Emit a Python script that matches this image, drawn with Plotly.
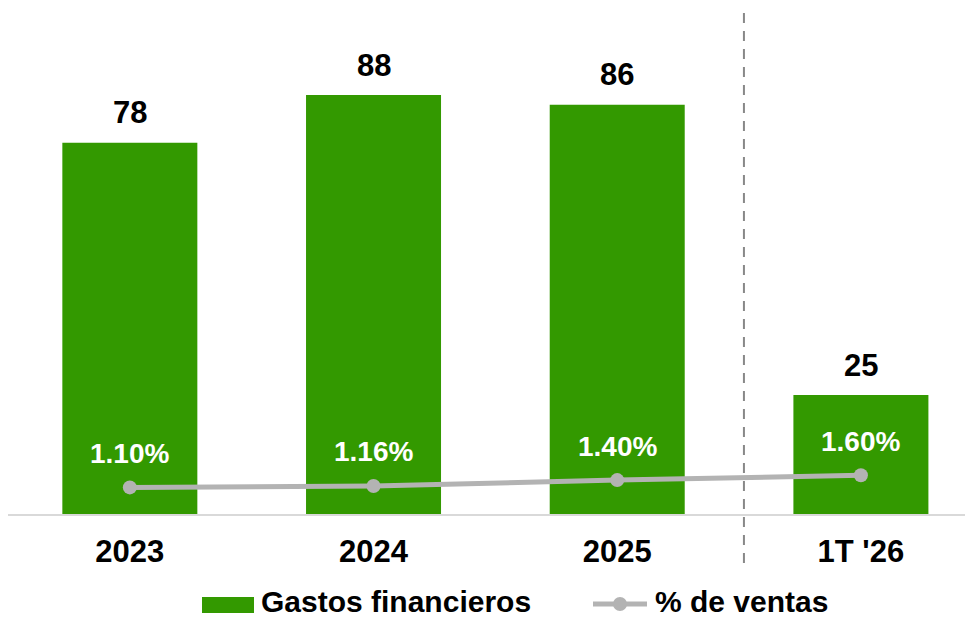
import plotly.graph_objects as go

categories = ["2023", "2024", "2025", "1T '26"]
gastos = [78, 88, 86, 25]
pct_ventas = [1.10, 1.16, 1.40, 1.60]

GREEN = "#339900"
GRAY = "#b3b3b3"
FONT = "Liberation Sans, Arial, sans-serif"

# page body has an 8px margin; coordinates below are page pixels
OFF = 8
W, H = 965, 613
L, R, T, B = 0, 0, 0, 107
pw, ph = W - L - R, H - T - B


def px(xp):
    return (xp - OFF - L) / pw


def py(yp):
    return (H - B - (yp - OFF)) / ph


fig = go.Figure()
fig.add_trace(go.Bar(
    x=categories, y=gastos, name="Gastos financieros",
    marker=dict(color=GREEN, line=dict(width=0)), width=0.554,
    showlegend=False, hoverinfo="skip",
))
fig.add_trace(go.Scatter(
    x=categories, y=pct_ventas, name="% de ventas", yaxis="y2",
    mode="lines+markers",
    line=dict(color=GRAY, width=5),
    marker=dict(color=GRAY, size=14),
    showlegend=False, hoverinfo="skip",
))

annotations = []
for i, v in enumerate(gastos):
    annotations.append(dict(
        x=i, y=v, xref="x", yref="y", text=str(v), showarrow=False,
        yanchor="middle", yshift=30,
        font=dict(family=FONT, size=31, color="black", weight="bold"),
    ))
for i, p in enumerate(pct_ventas):
    annotations.append(dict(
        x=i, y=p, xref="x", yref="y2", text=f"{p:.2f}%", showarrow=False,
        yanchor="middle", yshift=34,
        font=dict(family=FONT, size=28, color="white", weight="bold"),
    ))

# manual legend
annotations.append(dict(
    x=px(259), y=py(601), xref="paper", yref="paper", text="Gastos financieros",
    showarrow=False, xanchor="left", yanchor="middle",
    font=dict(family=FONT, size=30, color="black", weight="bold"),
))
annotations.append(dict(
    x=px(653), y=py(601), xref="paper", yref="paper", text="% de ventas",
    showarrow=False, xanchor="left", yanchor="middle",
    font=dict(family=FONT, size=30, color="black", weight="bold"),
))

shapes = [
    dict(type="line", xref="x", yref="paper", x0=2.52, x1=2.52,
         y0=py(563), y1=py(12),
         line=dict(color="#888888", width=2, dash="10px,8px")),
    dict(type="rect", xref="paper", yref="paper",
         x0=px(202), x1=px(254), y0=py(613), y1=py(597),
         fillcolor=GREEN, line=dict(width=0)),
    dict(type="line", xref="paper", yref="paper",
         x0=px(593), x1=px(647), y0=py(604), y1=py(604),
         line=dict(color=GRAY, width=5)),
    dict(type="circle", xref="paper", yref="paper",
         x0=px(613), x1=px(627), y0=py(611), y1=py(597),
         fillcolor=GRAY, line=dict(width=0)),
]

fig.update_layout(
    width=W, height=H,
    margin=dict(l=L, r=R, t=T, b=B, autoexpand=False),
    paper_bgcolor="white", plot_bgcolor="white",
    showlegend=False,
    xaxis=dict(
        type="category", range=[-0.5, 3.46],
        showgrid=False, zeroline=False,
        showline=True, linecolor="#d9d9d9", linewidth=2,
        ticks="", tickfont=dict(family=FONT, size=31, color="black", weight="bold"),
        ticklabelstandoff=9,
    ),
    yaxis=dict(range=[0, 106.3], visible=False, showgrid=False, zeroline=False),
    yaxis2=dict(range=[0, 20.91], overlaying="y", visible=False,
                showgrid=False, zeroline=False),
    annotations=annotations,
    shapes=shapes,
)

fig.write_html("out.html")
